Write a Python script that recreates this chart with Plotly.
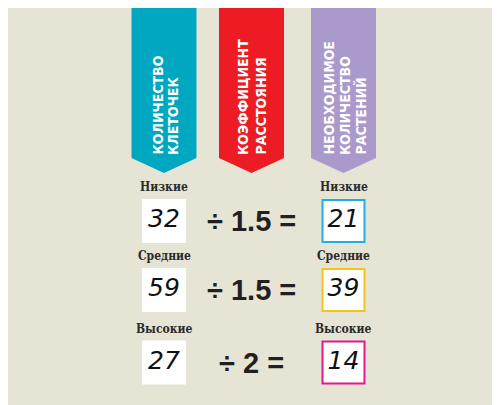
import plotly.graph_objects as go

# ---- data ----
categories = ["Низкие", "Средние", "Высокие"]
cells = [32, 59, 27]
coefficients = ["1.5", "1.5", "2"]
plants = [21, 39, 14]
headers = [["КОЛИЧЕСТВО", "КЛЕТОЧЕК"],
           ["КОЭФФИЦИЕНТ", "РАССТОЯНИЯ"],
           ["НЕОБХОДИМОЕ", "КОЛИЧЕСТВО", "РАСТЕНИЙ"]]
header_colors = ["#00a7c0", "#ed1c24", "#aa9acb"]
box_colors = ["#22ade6", "#f6c21c", "#e2198c"]

# ---- layout geometry (screen pixel coordinates) ----
BG = "#e6e4d4"
col_x = [164, 251.5, 343.5]
banner_half = 32.5
row_y = [221, 290, 362.5]
label_dy = 34
box_half = 22

fig = go.Figure()
shapes = []
annotations = []

# banners
line_x = [[157, 173], [243, 260], [328, 344.5, 360]]
for i, (cx, col) in enumerate(zip(col_x, header_colors)):
    x0, x1 = cx - banner_half, cx + banner_half
    shapes.append(dict(type="path",
                       path=f"M {x0},0 L {x1},0 L {x1},158 L {cx},173 L {x0},158 Z",
                       fillcolor=col, line=dict(width=0), layer="below"))
    for j, txt in enumerate(headers[i]):
        annotations.append(dict(x=line_x[i][j], y=157, text=f"<b>{txt}</b>",
                                showarrow=False, textangle=-90,
                                xanchor="center", yanchor="bottom",
                                font=dict(family="Liberation Sans Narrow, DejaVu Sans Condensed",
                                          size=14, color="white")))

# rows
for r in range(len(categories)):
    y = row_y[r]
    shapes.append(dict(type="rect", x0=col_x[0] - box_half, x1=col_x[0] + box_half,
                       y0=y - box_half, y1=y + box_half, fillcolor="white",
                       line=dict(width=0), layer="below"))
    shapes.append(dict(type="rect", x0=col_x[2] - box_half + 1, x1=col_x[2] + box_half - 1,
                       y0=y - box_half + 1, y1=y + box_half - 1, fillcolor="white",
                       line=dict(width=2, color=box_colors[r]), layer="below"))
    for cx in (col_x[0], col_x[2]):
        annotations.append(dict(x=cx, y=y - label_dy, text=categories[r], showarrow=False,
                                xanchor="center", yanchor="middle",
                                font=dict(family="DejaVu Serif Condensed", size=12,
                                          color="#2a2a2a", weight="bold")))
    annotations.append(dict(x=col_x[1], y=y, text=f"÷ {coefficients[r]} =",
                            showarrow=False, xanchor="center", yanchor="middle",
                            font=dict(family="Liberation Sans", size=29, color="#231f20",
                                      weight="bold")))

for xs, vals in ((col_x[0], cells), (col_x[2], plants)):
    fig.add_trace(go.Scatter(x=[xs] * len(vals), y=row_y, mode="text",
                             text=[str(v) for v in vals], textposition="middle center",
                             textfont=dict(family="DejaVu Sans", size=25, color="#111111",
                                           style="italic"),
                             hoverinfo="skip", showlegend=False, cliponaxis=False))

# page body has an 8px margin: map axis ranges so values are in window pixels
fig.update_layout(width=500, height=405, margin=dict(l=0, r=0, t=0, b=0),
                  paper_bgcolor=BG, plot_bgcolor=BG,
                  xaxis=dict(range=[8, 508], visible=False, fixedrange=True),
                  yaxis=dict(range=[413, 8], visible=False, fixedrange=True),
                  shapes=shapes, annotations=annotations, showlegend=False)
fig.write_html("out.html")
